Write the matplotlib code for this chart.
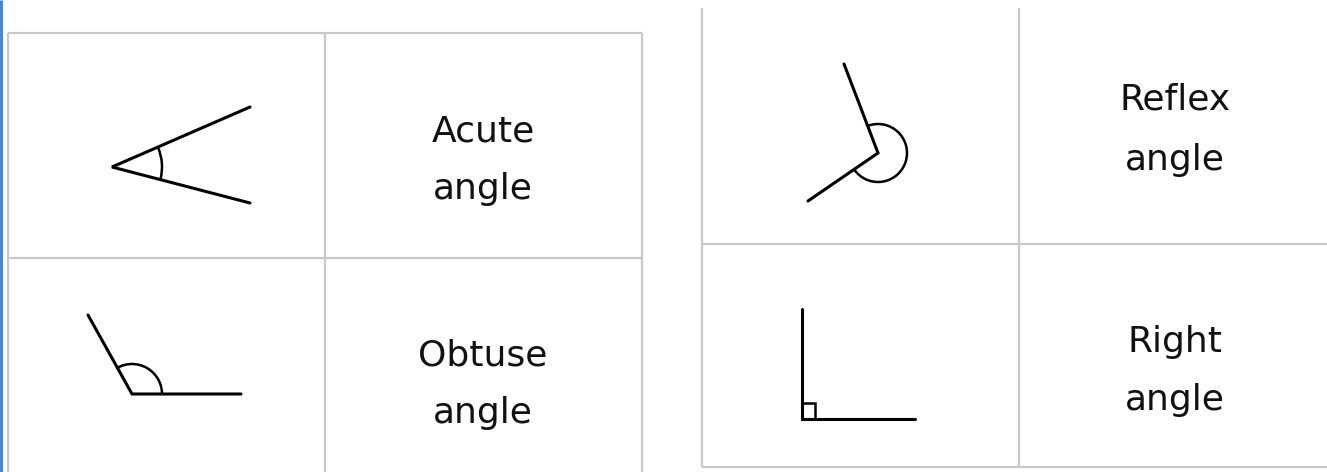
import numpy as np
import matplotlib
matplotlib.use("Agg")
import matplotlib.pyplot as plt
from matplotlib.patches import Arc, Rectangle

# angle cards, coordinates in image pixels (y goes down)
names = ["Acute", "Obtuse", "Reflex", "Right"]
vertex_x = [112, 132, 878, 802]
vertex_y = [167, 394, 153, 419]
ray1_x = [250, 241, 844, 915]
ray1_y = [107, 394, 64, 419]
ray2_x = [250, 88, 808, 802]
ray2_y = [203, 315, 201, 309]
arc_r = [50, 30, 29, 0]
square_w = [0, 0, 0, 13]
square_h = [0, 0, 0, 16]

label_x = [483, 483, 1175, 1175]
word_y = [142, 366, 110, 352]
second_y = [199, 423, 170, 410]

# table grid lines
left_vx = [8, 325, 642]
left_hy = [33, 258]
left_span = (8, 642, 33, 472)
right_vx = [702, 1019]
right_hy = [244, 467]
right_span = (702, 1327, 8, 467)

W, H = 1327, 472
fig = plt.figure(figsize=(W / 100, H / 100), dpi=100)
ax = fig.add_axes([0, 0, 1, 1])
ax.set_xlim(0, W)
ax.set_ylim(H, 0)
ax.axis("off")

grid = dict(color="#c9c9c9", lw=1.6, solid_capstyle="butt")
for xs, ys, (x0, x1, y0, y1) in [(left_vx, left_hy, left_span), (right_vx, right_hy, right_span)]:
    for x in xs:
        ax.plot([x, x], [y0, y1], **grid)
    for y in ys:
        ax.plot([x0, x1], [y, y], **grid)

# blue strip at left edge
ax.plot([1, 1], [0, H], color="#4a86d8", lw=2.2, solid_capstyle="butt")

for i in range(len(names)):
    vx, vy = vertex_x[i], vertex_y[i]
    ax.plot([ray2_x[i], vx, ray1_x[i]], [ray2_y[i], vy, ray1_y[i]],
            color="black", lw=2.2, solid_joinstyle="miter", solid_capstyle="round")
    if arc_r[i] > 0:
        t1 = np.degrees(np.arctan2(ray1_y[i] - vy, ray1_x[i] - vx))
        t2 = np.degrees(np.arctan2(ray2_y[i] - vy, ray2_x[i] - vx))
        ax.add_patch(Arc((vx, vy), 2 * arc_r[i], 2 * arc_r[i],
                         theta1=min(t1, t2), theta2=max(t1, t2), color="black", lw=1.8))
    if square_w[i] > 0:
        ax.add_patch(Rectangle((vx, vy - square_h[i]), square_w[i], square_h[i],
                               fill=False, ec="black", lw=1.8))
    ax.text(label_x[i], word_y[i], names[i], ha="center", va="baseline",
            fontsize=26, family="DejaVu Sans", color="#111111")
    ax.text(label_x[i], second_y[i], "angle", ha="center", va="baseline",
            fontsize=26, family="DejaVu Sans", color="#111111")

fig.savefig("out.png", dpi=100, facecolor="white")
